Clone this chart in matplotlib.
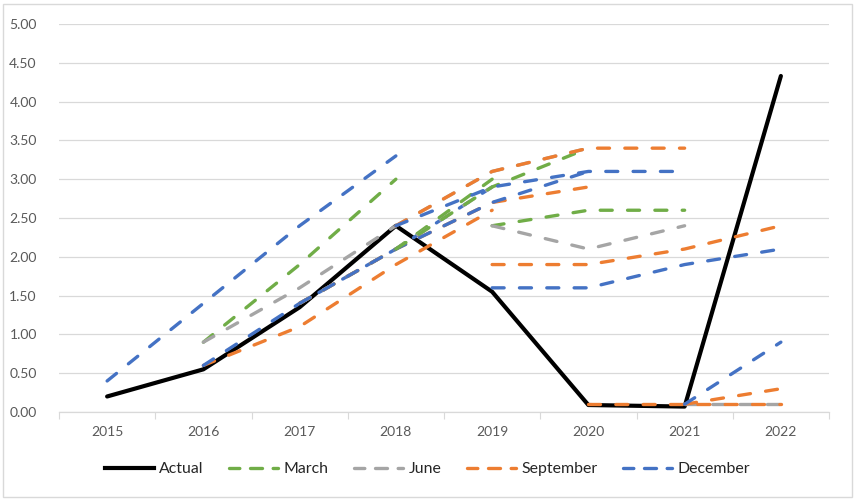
import numpy as np
import matplotlib
matplotlib.use("Agg")
import matplotlib.pyplot as plt
from matplotlib.patches import Rectangle
from matplotlib.lines import Line2D

plt.rcParams['font.family'] = ['Lato', 'DejaVu Sans']

years = ['2015', '2016', '2017', '2018', '2019', '2020', '2021', '2022']
nan = np.nan

actual = [0.20, 0.55, 1.35, 2.40, 1.55, 0.09, 0.07, 4.33]

# Forecast vintages (median projections), by year of the chart
dec15 = [0.4, 1.4, 2.4, 3.3, nan, nan, nan, nan]
mar16 = [nan, 0.9, 1.9, 3.0, nan, nan, nan, nan]
jun16 = [nan, 0.9, 1.6, 2.4, nan, nan, nan, nan]
sep16 = [nan, 0.6, 1.1, 1.9, 2.6, nan, nan, nan]
dec16 = [nan, 0.6, 1.4, 2.1, 2.9, nan, nan, nan]
mar17 = [nan, nan, 1.4, 2.1, 3.0, nan, nan, nan]
jun17 = [nan, nan, 1.4, 2.1, 2.9, nan, nan, nan]
sep17 = [nan, nan, 1.4, 2.1, 2.7, 2.9, nan, nan]
dec17 = [nan, nan, 1.4, 2.1, 2.7, 3.1, nan, nan]
mar18 = [nan, nan, nan, 2.1, 2.9, 3.4, nan, nan]
jun18 = [nan, nan, nan, 2.4, 3.1, 3.4, nan, nan]
sep18 = [nan, nan, nan, 2.4, 3.1, 3.4, 3.4, nan]
dec18 = [nan, nan, nan, 2.4, 2.9, 3.1, 3.1, nan]
mar19 = [nan, nan, nan, nan, 2.4, 2.6, 2.6, nan]
jun19 = [nan, nan, nan, nan, 2.4, 2.1, 2.4, nan]
sep19 = [nan, nan, nan, nan, 1.9, 1.9, 2.1, 2.4]
dec19 = [nan, nan, nan, nan, 1.6, 1.6, 1.9, 2.1]
jun21 = [nan, nan, nan, nan, nan, nan, 0.1, 0.1]
sep20 = [nan, nan, nan, nan, nan, 0.1, 0.1, 0.1]
sep21 = [nan, nan, nan, nan, nan, nan, 0.1, 0.3]
dec21 = [nan, nan, nan, nan, nan, nan, 0.1, 0.9]

C_MAR = '#70AD47'
C_JUN = '#A5A5A5'
C_SEP = '#ED7D31'
C_DEC = '#4472C4'

vintages = [
    (dec15, C_DEC), (mar16, C_MAR), (jun16, C_JUN), (sep16, C_SEP), (dec16, C_DEC),
    (mar17, C_MAR), (jun17, C_JUN), (sep17, C_SEP), (dec17, C_DEC),
    (mar18, C_MAR), (jun18, C_JUN), (sep18, C_SEP), (dec18, C_DEC),
    (mar19, C_MAR), (jun19, C_JUN), (sep19, C_SEP), (dec19, C_DEC),
    (jun21, C_JUN), (sep20, C_SEP), (sep21, C_SEP), (dec21, C_DEC),
]

fig = plt.figure(figsize=(8.55, 4.99), dpi=100)
ax = fig.add_axes([59/855, 1-412/499, 770/855, 388/499])

x = np.arange(len(years))
dash = (3.6, 4.6)
lw_d = 2.4
lw_a = 3.0

ax.plot(x, actual, color='black', lw=lw_a, solid_capstyle='round', solid_joinstyle='round', zorder=2)
for vals, col in vintages:
    v = np.array(vals, dtype=float)
    m = ~np.isnan(v)
    ax.plot(x[m], v[m], color=col, lw=lw_d, linestyle=(0, dash), dash_capstyle='round', zorder=3)

legdash = (0.5, (3.6, 3.2))
handles = [
    Line2D([], [], color='black', lw=lw_a, label='Actual'),
    Line2D([], [], color=C_MAR, lw=lw_d, linestyle=legdash, dash_capstyle='round', label='March'),
    Line2D([], [], color=C_JUN, lw=lw_d, linestyle=legdash, dash_capstyle='round', label='June'),
    Line2D([], [], color=C_SEP, lw=lw_d, linestyle=legdash, dash_capstyle='round', label='September'),
    Line2D([], [], color=C_DEC, lw=lw_d, linestyle=legdash, dash_capstyle='round', label='December'),
]
leg = fig.legend(handles=handles, loc='center', bbox_to_anchor=(0.5, 1-469/499), ncol=5,
                 frameon=False, fontsize=11.4, handlelength=3.1, handletextpad=0.35,
                 columnspacing=1.6)
for t in leg.get_texts():
    t.set_color('#262626')

ax.set_xlim(-0.5, len(years) - 0.5)
ax.set_ylim(0, 5)
yt = np.arange(0, 5.01, 0.5)
ax.set_yticks(yt)
ax.set_yticklabels([f'{v:.2f}' for v in yt])
ax.set_xticks(x)
ax.set_xticklabels(years)
ax.set_xticks(np.arange(-0.5, len(years), 1.0), minor=True)
ax.tick_params(axis='x', which='major', length=0, pad=10, labelsize=10, labelcolor='#595959')
ax.tick_params(axis='x', which='minor', length=5, width=0.8, color='#D9D9D9', direction='out')
ax.tick_params(axis='y', length=0, pad=16, labelsize=10, labelcolor='#595959')
ax.grid(axis='y', color='#D9D9D9', lw=0.9)
ax.set_axisbelow(True)
for s in ['top', 'right', 'left']:
    ax.spines[s].set_visible(False)
ax.spines['bottom'].set_color('#D9D9D9')
ax.spines['bottom'].set_linewidth(0.9)

fig.patches.append(Rectangle((3/855, 2/499), 849/855, 493/499, transform=fig.transFigure,
                             fill=False, edgecolor='#D9D9D9', lw=1))

fig.savefig('out.png', dpi=100)
